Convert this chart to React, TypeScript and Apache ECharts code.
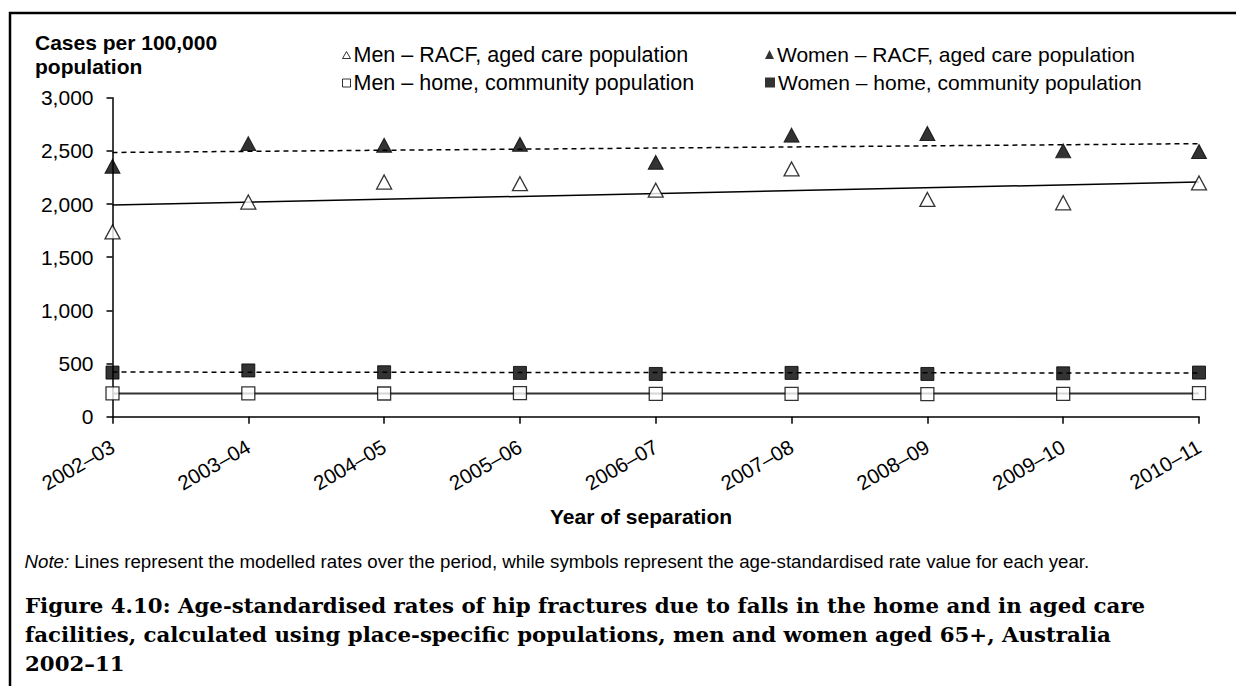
import React, { useEffect, useRef } from 'react';
import * as echarts from 'echarts';

const categories = ['2002–03', '2003–04', '2004–05', '2005–06', '2006–07', '2007–08', '2008–09', '2009–10', '2010–11'];
const menRacf = [1738, 2019, 2207, 2191, 2130, 2330, 2043, 2012, 2198];
const womenRacf = [2355, 2568, 2553, 2562, 2392, 2648, 2664, 2500, 2494];
const menHome = [220, 220, 218, 222, 215, 215, 213, 215, 222];
const womenHome = [415, 435, 418, 412, 402, 412, 402, 408, 415];
// modelled rates (start, end of period)
const menRacfTrend = [1991, 2207];
const womenRacfTrend = [2485, 2568];
const menHomeTrend = [218, 218];
const womenHomeTrend = [420, 410];
const seriesNames = [
  'Men – RACF, aged care population',
  'Women – RACF, aged care population',
  'Men – home, community population',
  'Women – home, community population',
];
const yMin = 0;
const yMax = 3000;
const yStep = 500;
const yTitle = ['Cases per 100,000', 'population'];
const xTitle = 'Year of separation';
const noteLabel = 'Note:';
const noteText = ' Lines represent the modelled rates over the period, while symbols represent the age-standardised rate value for each year.';
const captionLines = [
  'Figure 4.10: Age-standardised rates of hip fractures due to falls in the home and in aged care',
  'facilities, calculated using place-specific populations, men and women aged 65+, Australia',
  '2002–11',
];

const SANS = '"Liberation Sans", Arial, sans-serif';
const SERIF = '"DejaVu Serif", "Liberation Serif", serif';

function trend(t: number[]) {
  return [
    [categories[0], t[0]],
    [categories[categories.length - 1], t[1]],
  ];
}

export default function App() {
  const ref = useRef<HTMLDivElement>(null);
  useEffect(() => {
    if (!ref.current) return;
    const chart = echarts.init(ref.current, undefined, { renderer: 'svg' });
    const legendItem = (name: string, left: number, top: number, icon: string, filled: boolean, w: number, h: number, fs: number) => ({
      show: true,
      left,
      top,
      orient: 'horizontal',
      data: [name],
      icon,
      itemWidth: w,
      itemHeight: h,
      itemGap: 0,
      padding: 0,
      selectedMode: false,
      itemStyle: filled
        ? { color: '#000', borderWidth: 0 }
        : { color: '#fff', borderColor: '#000', borderWidth: 1 },
      textStyle: { fontFamily: SANS, fontSize: fs, color: '#000', padding: [0, 0, 0, -2] },
    });
    const scatter = (name: string, data: number[], symbol: string, size: number | number[], filled: boolean) => ({
      name,
      type: 'scatter',
      data,
      symbol,
      symbolSize: size,
      z: 5,
      itemStyle: filled
        ? { color: '#000', borderColor: '#000', borderWidth: 1 }
        : { color: '#fff', borderColor: '#000', borderWidth: 1.3 },
    });
    const line = (data: any[], dashed: boolean, color = '#000', width = 1.5) => ({
      type: 'line',
      data,
      showSymbol: false,
      symbol: 'none',
      silent: true,
      z: 2,
      lineStyle: { color, width, type: dashed ? [5, 4] : 'solid' },
    });
    chart.setOption({
      animation: false,
      backgroundColor: '#fff',
      textStyle: { fontFamily: SANS },
      grid: { left: 112.5, right: 37, top: 97.7, bottom: 269.3, containLabel: false },
      legend: [
        legendItem(seriesNames[0], 342, 44, 'triangle', false, 8, 7, 21.5),
        legendItem(seriesNames[2], 342, 72, 'rect', false, 8, 8, 21.5),
        legendItem(seriesNames[1], 765, 44, 'triangle', true, 9, 9, 21),
        legendItem(seriesNames[3], 765, 72, 'rect', true, 10, 10, 21),
      ],
      xAxis: {
        type: 'category',
        data: categories,
        boundaryGap: false,
        axisLine: { show: true, lineStyle: { color: '#000', width: 1.5 } },
        axisTick: { show: true, alignWithLabel: true, length: 7, lineStyle: { color: '#000', width: 1.5 } },
        axisLabel: { rotate: 30, margin: 28, fontSize: 20.5, color: '#000', fontFamily: SANS, interval: 0 },
        splitLine: { show: false },
      },
      yAxis: {
        type: 'value',
        min: yMin,
        max: yMax,
        interval: yStep,
        axisLine: { show: true, lineStyle: { color: '#000', width: 1.5 } },
        axisTick: { show: true, length: 6, lineStyle: { color: '#000', width: 1.5 } },
        axisLabel: {
          margin: 19,
          fontSize: 21,
          color: '#000',
          fontFamily: SANS,
          formatter: (v: number) => v.toLocaleString('en-US'),
        },
        splitLine: { show: false },
      },
      series: [
        line(trend(menRacfTrend), false),
        line(trend(womenRacfTrend), true),
        line(trend(menHomeTrend), false, '#333', 2),
        line(trend(womenHomeTrend), true),
        scatter(seriesNames[0], menRacf, 'triangle', [15, 14], false),
        scatter(seriesNames[1], womenRacf, 'triangle', [15, 14], true),
        scatter(seriesNames[2], menHome, 'rect', 13, false),
        scatter(seriesNames[3], womenHome, 'rect', 13, true),
      ],
      graphic: [
        {
          type: 'rect',
          silent: true,
          shape: { x: 10, y: 13, width: 1500, height: 1000 },
          style: { fill: 'none', stroke: '#000', lineWidth: 2.5 },
        },
        {
          type: 'text',
          x: 35,
          y: 42,
          style: { text: yTitle[0], fontFamily: SANS, fontSize: 21, fontWeight: 'bold', fill: '#000', textVerticalAlign: 'middle' },
        },
        {
          type: 'text',
          x: 35,
          y: 66,
          style: { text: yTitle[1], fontFamily: SANS, fontSize: 21, fontWeight: 'bold', fill: '#000', textVerticalAlign: 'middle' },
        },
        {
          type: 'text',
          x: 641,
          y: 516,
          style: { text: xTitle, fontFamily: SANS, fontSize: 21, fontWeight: 'bold', fill: '#000', textAlign: 'center', textVerticalAlign: 'middle' },
        },
        {
          type: 'text',
          x: 24.5,
          y: 561,
          style: {
            text: '{i|' + noteLabel + '}{n|' + noteText + '}',
            fill: '#000',
            textVerticalAlign: 'middle',
            rich: {
              i: { fontFamily: SANS, fontSize: 18.7, fontStyle: 'italic', fill: '#000' },
              n: { fontFamily: SANS, fontSize: 18.7, fill: '#000' },
            },
          },
        },
        ...captionLines.map((t, i) => ({
          type: 'text',
          x: 25,
          y: 605 + i * 29,
          style: { text: t, fontFamily: SERIF, fontSize: 21.3, fontWeight: 'bold', fill: '#000', textVerticalAlign: 'middle' },
        })),
      ],
    });
    return () => chart.dispose();
  }, []);
  return <div ref={ref} style={{ position: 'fixed', left: 0, top: 0, width: 1236, height: 686 }} />;
}
